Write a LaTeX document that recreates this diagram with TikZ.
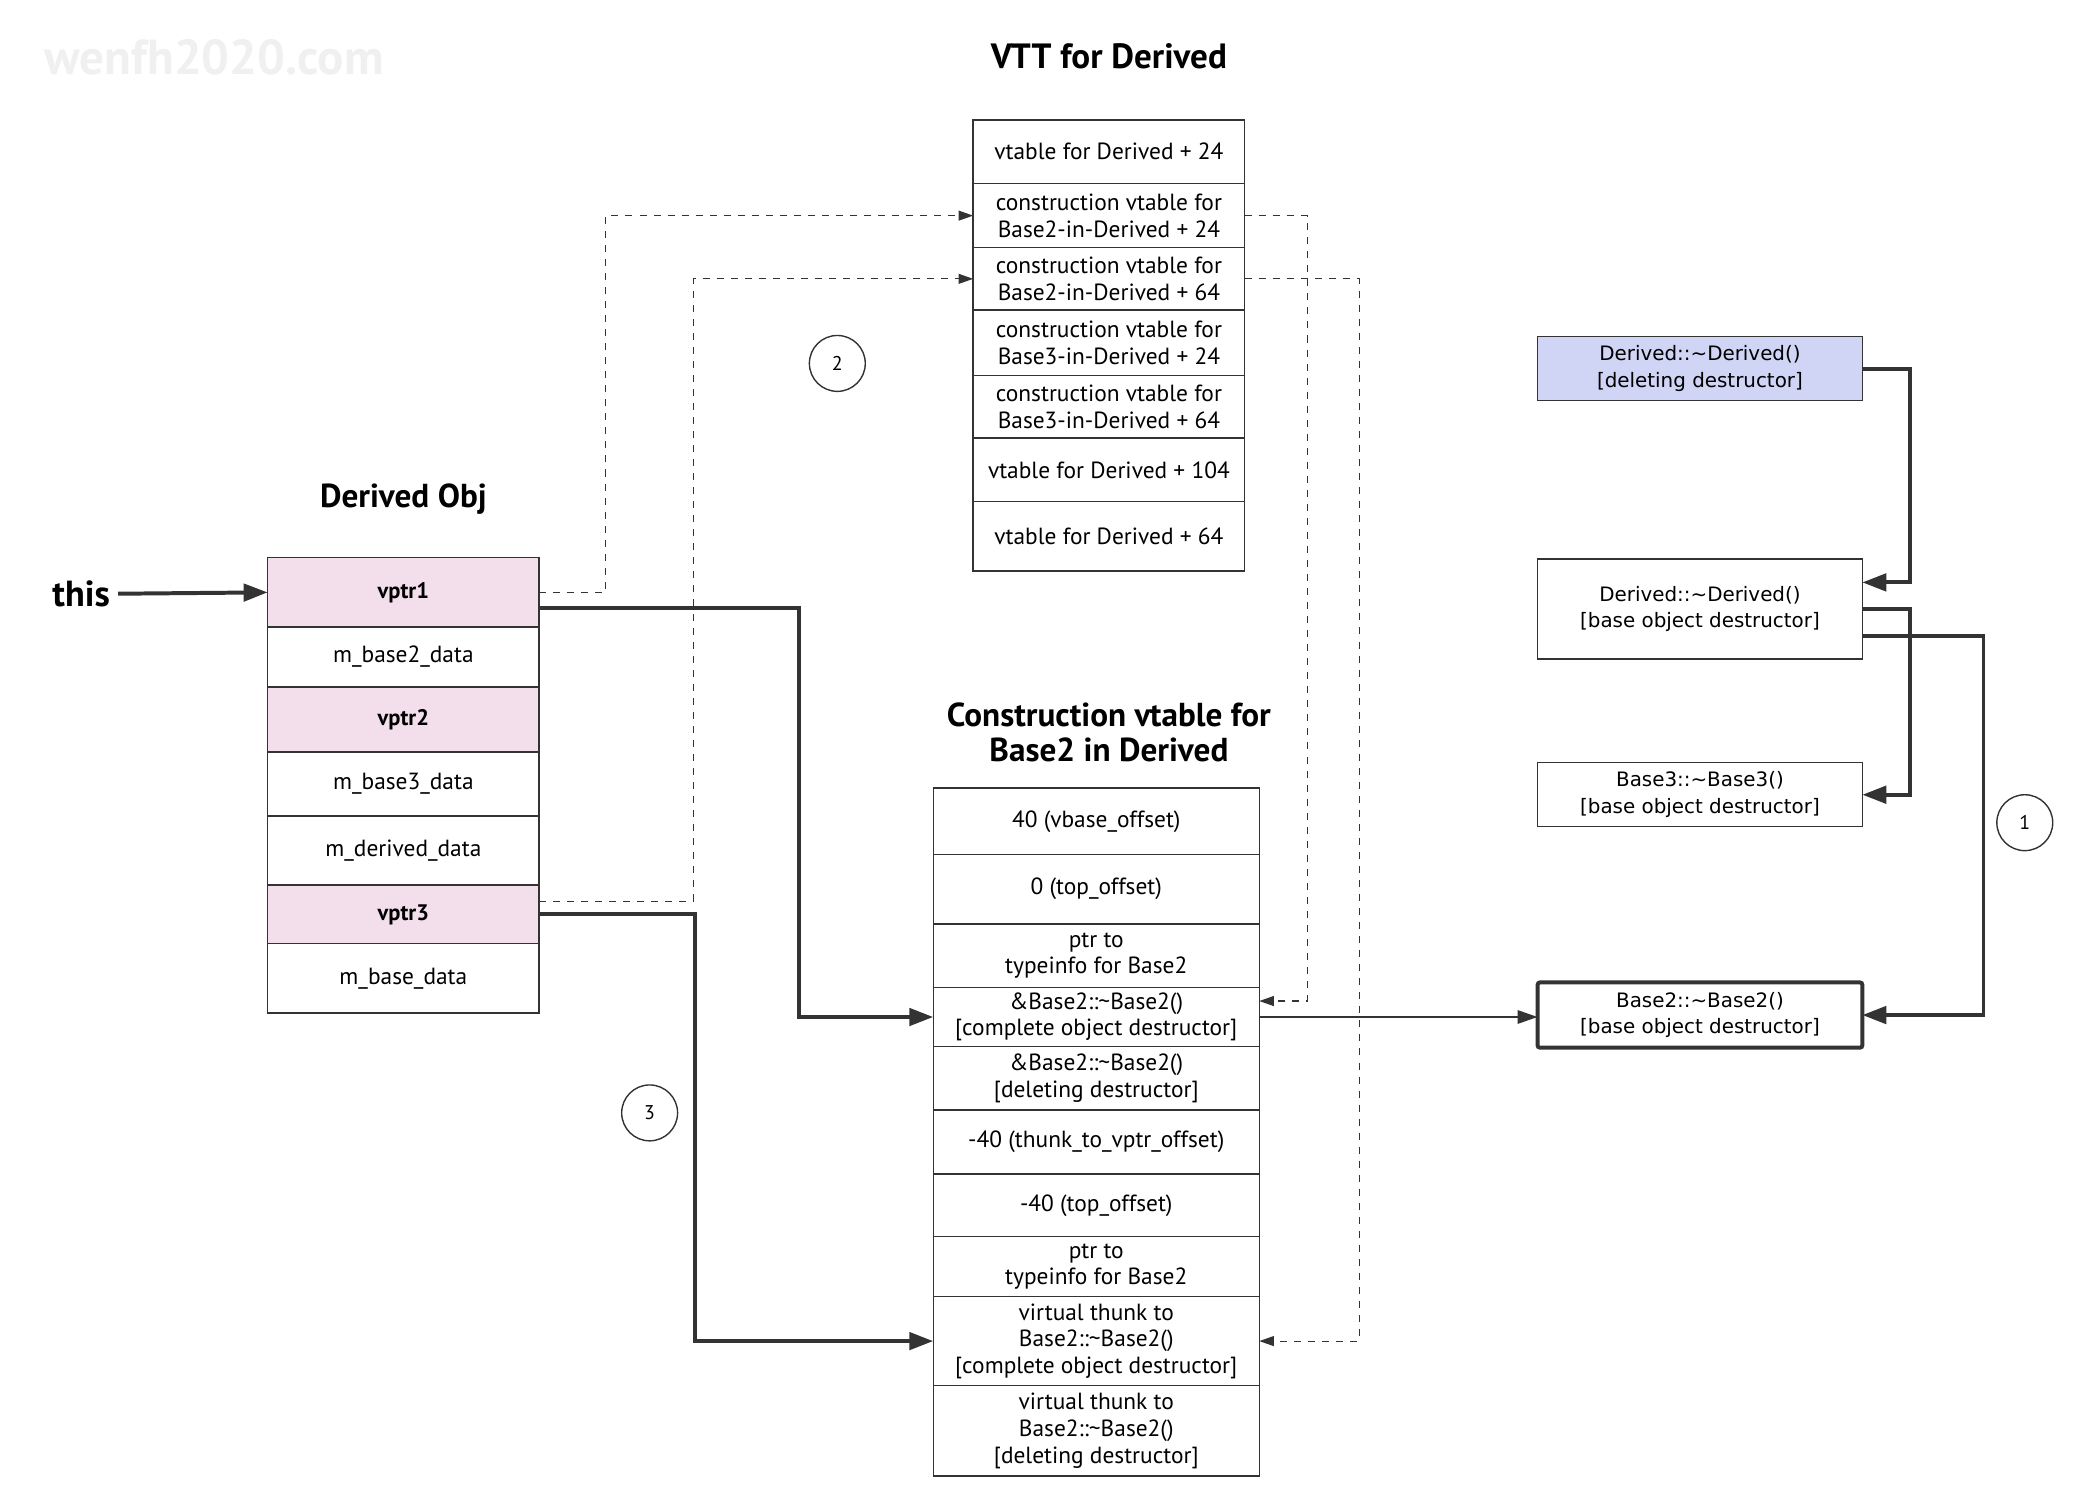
\documentclass[tikz,border=0pt]{standalone}
\usepackage{fontspec}
\setmainfont{PT Sans}
\newfontfamily\dtorfont{DejaVu Sans}
\usetikzlibrary{positioning,arrows.meta,calc}
\definecolor{linegray}{HTML}{333333}
\definecolor{ptrpink}{HTML}{F3DEEC}
\definecolor{dtorblue}{HTML}{D0D4F5}
\tikzset{
    x=0.02cm,
    y=-0.02cm,
    cell/.style = {
        draw=linegray,
        shape=rectangle,
        minimum width=4.08cm,
        inner sep=1pt,
        outer sep=0pt,
        align=center,
        line width=0.6pt,
        font=\fontsize{10}{11.4}\selectfont
    },
    ptr/.style = {
        cell,
        fill=ptrpink,
        font=\fontsize{9.6}{11}\selectfont\bfseries
    },
    cvt/.style = {
        cell,
        minimum width=4.9cm
    },
    dtor/.style = {
        cell,
        minimum width=4.88cm,
        font=\dtorfont\fontsize{8.5}{11.4}\selectfont
    },
    heading/.style = {
        align=center,
        font=\fontsize{14.2}{14.8}\selectfont\bfseries
    },
    num/.style = {
        draw=linegray,
        shape=circle,
        minimum size=0.84cm,
        inner sep=0pt,
        line width=0.6pt,
        font=\fontsize{8.5}{10}\selectfont
    },
    dashlink/.style = {draw=linegray, dashed, line width=0.5pt, -{Triangle[length=2.2mm,width=1.5mm]}},
    boldlink/.style = {draw=linegray, line width=1.7pt, -{Triangle[length=3.6mm,width=2.6mm]}},
    plainlink/.style = {draw=linegray, line width=0.9pt, -{Triangle[length=3mm,width=2mm]}},
}

\begin{document}
\begin{tikzpicture}
        \useasboundingbox (0,0) rectangle (1567,1131);
        \node[text=gray!12, font=\fontsize{21}{24}\selectfont\bfseries] (mark) at (161,43) {wenfh2020.com};

        % VTT for Derived
        \node[heading, font=\fontsize{15}{16}\selectfont\bfseries] (vtttitle) at (833,42) {VTT for Derived};
        \node[cell, anchor=north, minimum height=0.96cm] (vtt1) at (833,90) {vtable for Derived + 24};
        \node[cell, below=0pt of vtt1, minimum height=0.96cm] (vtt2) {construction vtable for\\Base2-in-Derived + 24};
        \node[cell, below=0pt of vtt2, minimum height=0.94cm] (vtt3) {construction vtable for\\Base2-in-Derived + 64};
        \node[cell, below=0pt of vtt3, minimum height=0.98cm] (vtt4) {construction vtable for\\Base3-in-Derived + 24};
        \node[cell, below=0pt of vtt4, minimum height=0.94cm] (vtt5) {construction vtable for\\Base3-in-Derived + 64};
        \node[cell, below=0pt of vtt5, minimum height=0.96cm] (vtt6) {vtable for Derived + 104};
        \node[cell, below=0pt of vtt6, minimum height=1.04cm] (vtt7) {vtable for Derived + 64};

        % Derived Obj
        \node[heading] (objtitle) at (303,375) {Derived Obj};
        \node[ptr, anchor=north, minimum height=1.04cm] (vptr1) at (303,419) {vptr1};
        \node[cell, below=0pt of vptr1, minimum height=0.90cm] (base2data) {m\_base2\_data};
        \node[ptr, below=0pt of base2data, minimum height=0.98cm] (vptr2) {vptr2};
        \node[cell, below=0pt of vptr2, minimum height=0.96cm] (base3data) {m\_base3\_data};
        \node[cell, below=0pt of base3data, minimum height=1.04cm] (deriveddata) {m\_derived\_data};
        \node[ptr, below=0pt of deriveddata, minimum height=0.88cm] (vptr3) {vptr3};
        \node[cell, below=0pt of vptr3, minimum height=1.04cm] (basedata) {m\_base\_data};
        \node[font=\fontsize{15.5}{17}\selectfont\bfseries] (this) at (61,446) {this};

        % Construction vtable for Base2 in Derived
        \node[heading] (cvtitle) at (833,550) {Construction vtable for\\Base2 in Derived};
        \node[cvt, anchor=north, minimum height=1.0cm] (cv1) at (823.5,592) {40 (vbase\_offset)};
        \node[cvt, below=0pt of cv1, minimum height=1.04cm] (cv2) {0 (top\_offset)};
        \node[cvt, below=0pt of cv2, minimum height=0.96cm] (cv3) {ptr to\\typeinfo for Base2};
        \node[cvt, below=0pt of cv3, minimum height=0.88cm] (cv4) {\&Base2::\textasciitilde Base2()\\{}[complete object destructor]};
        \node[cvt, below=0pt of cv4, minimum height=0.96cm] (cv5) {\&Base2::\textasciitilde Base2()\\{}[deleting destructor]};
        \node[cvt, below=0pt of cv5, minimum height=0.96cm] (cv6) {-40 (thunk\_to\_vptr\_offset)};
        \node[cvt, below=0pt of cv6, minimum height=0.94cm] (cv7) {-40 (top\_offset)};
        \node[cvt, below=0pt of cv7, minimum height=0.90cm] (cv8) {ptr to\\typeinfo for Base2};
        \node[cvt, below=0pt of cv8, minimum height=1.34cm] (cv9) {virtual thunk to\\Base2::\textasciitilde Base2()\\{}[complete object destructor]};
        \node[cvt, below=0pt of cv9, minimum height=1.36cm] (cv10) {virtual thunk to\\Base2::\textasciitilde Base2()\\{}[deleting destructor]};

        % destructors
        \node[dtor, fill=dtorblue, minimum height=0.96cm] (ddel) at (1277,277) {Derived::\textasciitilde Derived()\\{}[deleting destructor]};
        \node[dtor, minimum height=1.5cm] (dbase) at (1277,457.5) {Derived::\textasciitilde Derived()\\{}[base object destructor]};
        \node[dtor, minimum height=0.96cm] (b3dtor) at (1277,597) {Base3::\textasciitilde Base3()\\{}[base object destructor]};
        \node[dtor, line width=1.7pt, rounded corners=1pt, minimum height=0.98cm] (b2dtor) at (1277,762.5) {Base2::\textasciitilde Base2()\\{}[base object destructor]};

        \node[num] (one) at (1521,618) {1};
        \node[num] (two) at (629,273) {2};
        \node[num] (three) at (488,836) {3};

        \path[boldlink] (this.east) -- (vptr1.west);
        \path[dashlink] (vptr1.east) -- ++(50,0) |- (vtt2.west);
        \path[dashlink] ($(vptr3.east)+(0,-10)$) -- ++(116,0) |- (vtt3.west);
        \path[dashlink] (vtt2.east) -- ++(47,0) |- ($(cv4.east)+(0,-12)$);
        \path[dashlink] (vtt3.east) -- ++(86,0) |- (cv9.east);
        \path[boldlink] ($(vptr1.east)+(0,12)$) -- ++(195,0) |- (cv4.west);
        \path[boldlink] (vptr3.east) -- ++(117,0) |- (cv9.west);
        \path[plainlink] (cv4.east) -- (cv4.east -| b2dtor.west);
        \path[boldlink] (ddel.east) -- ++(36,0) |- ($(dbase.east)+(0,-20)$);
        \path[boldlink] (dbase.east) -- ++(36,0) |- (b3dtor.east);
        \path[boldlink] ($(dbase.east)+(0,20)$) -- ++(91,0) |- (b2dtor.east);
\end{tikzpicture}
\end{document}
